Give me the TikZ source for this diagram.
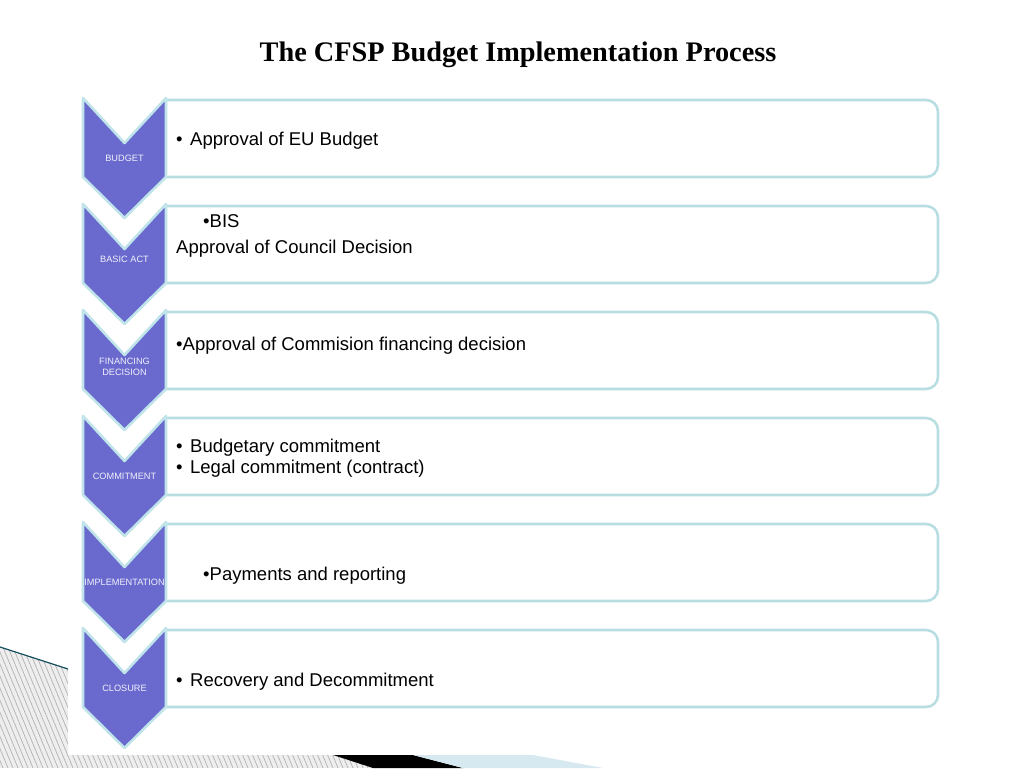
\documentclass[tikz,border=0pt]{standalone}
\usepackage{fontspec}
\setmainfont{Liberation Serif}
\newfontfamily\arialf{Liberation Sans}
\definecolor{chevfill}{RGB}{106,106,206}
\definecolor{chevline}{RGB}{192,228,234}
\definecolor{boxline}{RGB}{184,222,226}
\definecolor{edgeline}{RGB}{20,80,95}
\definecolor{paleblue}{RGB}{214,232,240}
\definecolor{hatchbg}{RGB}{238,238,238}
\definecolor{hatchline}{RGB}{178,178,178}
\definecolor{labwhite}{RGB}{240,240,252}
\tikzset{
  chevron/.style={draw=chevline, fill=chevfill, line width=2.6pt, line join=round},
  stepboxline/.style={draw=boxline, line width=2.6pt, rounded corners=12pt},
  chevlabel/.style={font=\arialf\fontsize{9.2}{10.5}\selectfont, text=labwhite, align=center, inner sep=0pt},
  boxtext/.style={font=\arialf\fontsize{18.5}{21.7}\selectfont, anchor=base west, inner sep=0pt, text=black},
}
\begin{document}
\begin{tikzpicture}[x=1pt,y=-1pt]
\useasboundingbox (0,0) rectangle (1024,768);
% background decoration
\begin{scope}
  \clip (0,647) -- (68,669) -- (68,755) -- (333,755) -- (373,768) -- (0,768) -- cycle;
  \fill[hatchbg] (0,640) rectangle (380,768);
  \foreach \k in {-60,-55,...,380}{
    \draw[hatchline, line width=0.7pt] (\k,640) -- (\k+53,768);
  }
\end{scope}
\draw[edgeline, line width=1.2pt] (0,647) -- (68,669);
\fill[black] (333,755) -- (413,755) -- (463,768) -- (373,768) -- cycle;
\fill[paleblue] (413,755) -- (533,755) -- (603,768) -- (463,768) -- cycle;
% title
\node[font=\fontsize{28.3}{32}\selectfont\bfseries, inner sep=0pt, anchor=base] (title) at (518,62) {The CFSP Budget Implementation Process};
% rows
\foreach \i in {0,...,5}{
  \pgfmathsetmacro{\off}{106*\i}
  \draw[stepboxline] (166,100+\off) -- (938,100+\off) -- (938,177+\off) -- (166,177+\off);
  \draw[chevron] (83,98+\off) -- (124.5,143+\off) -- (166,98+\off) -- (166,177+\off) -- (124.5,218+\off) -- (83,177+\off) -- cycle;
}
% chevron labels
\node[chevlabel] (l1) at (124.5,158) {BUDGET};
\node[chevlabel] (l2) at (124.5,259) {BASIC ACT};
\node[chevlabel] (l3) at (124.5,367) {FINANCING\\DECISION};
\node[chevlabel] (l4) at (124.5,476) {COMMITMENT};
\node[chevlabel] (l5) at (124.5,582) {IMPLEMENTATION};
\node[chevlabel] (l6) at (124.5,688) {CLOSURE};
% box texts
\node[boxtext] (t1) at (176,145) {•\hspace{7.5pt}Approval of EU Budget};
\node[boxtext] (t2a) at (203,227.5) {•BIS};
\node[boxtext] (t2b) at (176,253) {Approval of Council Decision};
\node[boxtext] (t3) at (176,350) {•Approval of Commision financing decision};
\node[boxtext] (t4a) at (176,452) {•\hspace{7.5pt}Budgetary commitment};
\node[boxtext] (t4b) at (176,473.5) {•\hspace{7.5pt}Legal commitment (contract)};
\node[boxtext] (t5) at (203,580) {•Payments and reporting};
\node[boxtext] (t6) at (176,686) {•\hspace{7.5pt}Recovery and Decommitment};
\end{tikzpicture}
\end{document}
